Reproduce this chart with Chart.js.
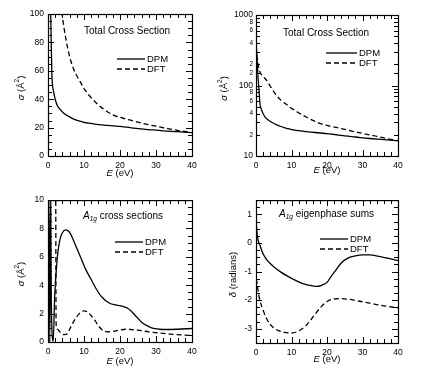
<!DOCTYPE html>
<html><head><meta charset="utf-8">
<script src="https://cdn.jsdelivr.net/npm/chart.js@4.4.1/dist/chart.umd.min.js"></script>
<style>
html,body{margin:0;padding:0;background:#fff;}
body{width:426px;height:382px;position:relative;overflow:hidden;}
canvas{position:absolute;}
</style></head>
<body>
<canvas id="p1" width="213" height="191" style="left:0;top:0"></canvas>
<canvas id="p2" width="213" height="191" style="left:213px;top:0"></canvas>
<canvas id="p3" width="213" height="191" style="left:0;top:191px"></canvas>
<canvas id="p4" width="213" height="191" style="left:213px;top:191px"></canvas>
<script>
// ---------- data ----------
const xTickLabels = [0, 10, 20, 30, 40];

// Total cross section (panels 1 & 2)
const eTotDPM = [0.05,0.2,0.4,0.6,0.75,0.9,1.1,1.5,2,2.5,3.3,4.3,5.4,7,8.9,10,12,13.5,15.6,18,20,22.8,25,28,32,36,40];
const totDPM  = [380,300,190,125,100,79,56,46,40,36,33,30.3,28.4,26.2,24.5,23.7,22.9,22.3,21.8,21.2,20.8,20,19.3,18.6,17.7,17.1,16.4];
const eTotDFT = [0.2,0.6,1,2,3,4,5,6,7,8,9,10,12,14,16,18,20,23,26,28,30,32,34,37,40];
const totDFT  = [270,200,160,135,118,98,82,70,62,56.5,52,47.5,41,36,32,29,27.2,25.2,23.2,22,21,19.9,19,17.6,16.5];

// A1g cross sections (panel 3)
const eA1gDPM = [0,0.25,0.5,0.75,0.9,1.45,1.85,2.6,3.3,4,4.9,5.5,6.3,7.5,9,10.5,12,13.5,15,17,19,21,22,23,24.5,26,27.5,29,31,33,36,40];
const a1gDPM  = [0,10.5,0,10.5,3.2,0.05,3.2,6.0,7.2,7.7,7.9,7.85,7.6,6.9,6.0,5.1,4.4,3.7,3.15,2.75,2.6,2.5,2.4,2.2,1.8,1.4,1.15,0.98,0.9,0.88,0.9,0.95];
const eA1gDFT = [2.15,2.25,2.6,3.5,4.5,5.2,6.4,7.5,8.7,10,11,12,12.9,14,15.2,16.5,18,20,21.6,23,26,28,31,34,37,40];
const a1gDFT  = [10.5,1.3,0.9,0.65,0.52,0.55,1.1,1.6,2.0,2.2,2.1,1.85,1.57,1.15,0.82,0.72,0.74,0.85,0.9,0.88,0.8,0.72,0.63,0.56,0.5,0.45];

// A1g eigenphase sums (panel 4)
const eEigDPM = [0,0.2,0.5,1.1,2,3,4,5,7,9,11,13,15,17,18.5,20,21,22.5,24,26,28,30,32,35,38,40];
const eigDPM  = [1.0,0.5,0.15,-0.08,-0.38,-0.58,-0.72,-0.83,-1.02,-1.17,-1.3,-1.41,-1.48,-1.52,-1.48,-1.38,-1.2,-0.95,-0.7,-0.52,-0.45,-0.42,-0.42,-0.48,-0.56,-0.62];
const eEigDFT = [0.1,0.5,1,2,3,4,5,6,8,10,12,14,16,18,20,22,24,26,28,30,33,36,40];
const eigDFT  = [-1.25,-1.6,-1.95,-2.35,-2.65,-2.85,-2.97,-3.05,-3.13,-3.15,-3.08,-2.9,-2.6,-2.28,-2.05,-1.96,-1.95,-1.97,-2.01,-2.06,-2.13,-2.2,-2.27];

const seriesNames = ['DPM', 'DFT'];

// ---------- helpers ----------
const FONT = "'Liberation Sans', Arial, Helvetica, sans-serif";
const pts = (xs, ys) => xs.map((x, i) => ({x, y: ys[i]}));
const near = (a, b) => Math.abs(a - b) < 1e-6;

function drawRich(ctx, parts, x, y, opts) {
  opts = opts || {};
  const base = opts.size || 10;
  const fontOf = p => (p.it ? 'italic ' : '') + (p.size || base) + 'px ' + FONT;
  let total = 0;
  parts.forEach(p => { ctx.font = fontOf(p); p.w = ctx.measureText(p.t).width; total += p.w; });
  ctx.save();
  ctx.translate(x, y);
  if (opts.rotate) ctx.rotate(-Math.PI / 2);
  let cx = opts.align === 'left' ? 0 : -total / 2;
  ctx.textBaseline = 'middle';
  ctx.textAlign = 'left';
  ctx.fillStyle = '#000';
  parts.forEach(p => { ctx.font = fontOf(p); ctx.fillText(p.t, cx, p.dy || 0); cx += p.w; });
  ctx.restore();
}

const decor = {
  id: 'decor',
  afterDatasetsDraw(chart, args, o) {
    const ctx = chart.ctx, a = chart.chartArea;
    const xs = chart.scales.x, ys = chart.scales.y;
    ctx.save();
    ctx.strokeStyle = '#000';
    ctx.lineWidth = 1.2;
    ctx.strokeRect(a.left + 0.5, a.top + 0.5, a.right - a.left, a.bottom - a.top);
    ctx.lineWidth = 1;
    ctx.beginPath();
    xs.ticks.forEach(t => {
      const p = Math.round(xs.getPixelForValue(t.value)) + 0.5;
      const len = o.xMajor(t.value) ? 6 : 4;
      ctx.moveTo(p, a.bottom); ctx.lineTo(p, a.bottom - len);
      ctx.moveTo(p, a.top); ctx.lineTo(p, a.top + len);
    });
    ys.ticks.forEach(t => {
      const p = Math.round(ys.getPixelForValue(t.value)) + 0.5;
      const len = o.yMajor(t.value) ? 6 : 4;
      ctx.moveTo(a.left, p); ctx.lineTo(a.left + len, p);
      ctx.moveTo(a.right, p); ctx.lineTo(a.right - len, p);
    });
    ctx.stroke();

    // panel title
    drawRich(ctx, o.title, o.titleX, o.titleY, {align: 'left', size: 10});
    // legend
    ctx.lineWidth = 1.3;
    seriesNames.forEach((name, i) => {
      const y = o.legY + i * 10;
      ctx.setLineDash(i ? [5, 3] : []);
      ctx.beginPath(); ctx.moveTo(o.legX1, y); ctx.lineTo(o.legX2, y); ctx.stroke();
      ctx.setLineDash([]);
      ctx.font = '9.5px ' + FONT; ctx.fillStyle = '#000';
      ctx.textBaseline = 'middle'; ctx.textAlign = 'left';
      ctx.fillText(name, o.legX2 + 2, y + 0.5);
    });
    // axis titles
    drawRich(ctx, [{t: 'E', it: true}, {t: ' (eV)'}], (a.left + a.right) / 2, o.xTitleY, {size: 9.5});
    drawRich(ctx, o.yTitle, o.yTitleX, (a.top + a.bottom) / 2 + 3, {rotate: true, size: 9.5});
    ctx.restore();
  }
};

function makePanel(id, p) {
  const tickFont = {family: FONT, size: 8.5};
  const yScale = Object.assign({
    type: 'linear',
    grid: {display: false, drawTicks: false},
    border: {display: false},
    ticks: {
      autoSkip: false, padding: 4, color: '#000', font: tickFont,
      stepSize: p.yStep, callback: p.yLabel
    },
    afterFit: s => { s.width = p.L; }
  }, p.yExtra || {});
  yScale.min = p.yMin; yScale.max = p.yMax;
  return new Chart(document.getElementById(id), {
    type: 'line',
    data: {
      datasets: [
        {label: seriesNames[0], data: p.dpm, borderColor: '#000', borderWidth: 1.3, pointRadius: 0,
         cubicInterpolationMode: 'monotone', fill: false, clip: 0},
        {label: seriesNames[1], data: p.dft, borderColor: '#000', borderWidth: 1.3, pointRadius: 0,
         borderDash: [5, 3], cubicInterpolationMode: 'monotone', fill: false, clip: 0}
      ]
    },
    options: {
      responsive: false, animation: false, devicePixelRatio: 1, events: [],
      layout: {padding: {left: 0, top: p.T, right: p.R, bottom: 0}},
      scales: {
        x: {
          type: 'linear', min: 0, max: 40,
          grid: {display: false, drawTicks: false},
          border: {display: false},
          ticks: {
            autoSkip: false, maxRotation: 0, padding: 5, color: '#000', font: tickFont, stepSize: 2,
            callback: v => xTickLabels.some(l => near(l, v)) ? String(Math.round(v)) : ''
          },
          afterFit: s => { s.height = p.B; }
        },
        y: yScale
      },
      plugins: {
        legend: {display: false}, tooltip: {enabled: false},
        decor: {
          xMajor: v => near(v % 10, 0),
          yMajor: p.yMajor,
          title: p.title, titleX: p.titleX, titleY: p.titleY,
          legX1: p.legX1, legX2: p.legX2, legY: p.legY,
          xTitleY: p.xTitleY, yTitle: p.yTitle, yTitleX: p.yTitleX
        }
      }
    },
    plugins: [decor]
  });
}

const sigmaTitle = [{t: 'σ', it: true}, {t: ' (Å'}, {t: '2', size: 6.5, dy: -3.5}, {t: ')'}];
const totTitle = [{t: 'Total Cross Section'}];
const isMult = (v, m) => near(v / m, Math.round(v / m));
function isDecade(v) { const l = Math.log10(v); return near(l, Math.round(l)); }

// Panel 1: total cross section, linear
makePanel('p1', {
  L: 48, T: 14, R: 21, B: 35,
  dpm: pts(eTotDPM, totDPM), dft: pts(eTotDFT, totDFT),
  yMin: 0, yMax: 100, yStep: 5,
  yLabel: v => isMult(v, 20) ? String(Math.round(v)) : '',
  yMajor: v => isMult(v, 20),
  title: totTitle, titleX: 84, titleY: 31,
  legX1: 117, legX2: 145, legY: 59,
  xTitleY: 173, yTitle: sigmaTitle, yTitleX: 21
});

// Panel 2: total cross section, log
makePanel('p2', {
  L: 43, T: 15, R: 28, B: 35,
  dpm: pts(eTotDPM, totDPM), dft: pts(eTotDFT, totDFT),
  yMin: 10, yMax: 1000,
  yExtra: {
    type: 'logarithmic',
    ticks: {
      autoSkip: false, padding: 3, color: '#000',
      font: c => ({family: FONT, size: (c.tick && isDecade(c.tick.value)) ? 8.5 : 6.5}),
      callback: v => {
        if (isDecade(v)) return String(Math.round(v));
        const e = Math.floor(Math.log10(v) + 1e-9);
        const m = Math.round(v / Math.pow(10, e));
        return (m % 2 === 0) ? String(m) : '';
      }
    }
  },
  yMajor: v => isDecade(v),
  title: totTitle, titleX: 70, titleY: 33,
  legX1: 113, legX2: 144, legY: 53,
  xTitleY: 170, yTitle: sigmaTitle, yTitleX: 11
});

// Panel 3: A1g cross sections
makePanel('p3', {
  L: 48, T: 8, R: 21, B: 40,
  dpm: pts(eA1gDPM, a1gDPM), dft: pts(eA1gDFT, a1gDFT),
  yMin: 0, yMax: 10, yStep: 0.5,
  yLabel: v => isMult(v, 2) ? String(Math.round(v)) : '',
  yMajor: v => isMult(v, 2),
  title: [{t: 'A', it: true}, {t: '1g', it: true, size: 6.5, dy: 3}, {t: ' cross sections'}],
  titleX: 83, titleY: 25,
  legX1: 115, legX2: 143, legY: 51,
  xTitleY: 170, yTitle: sigmaTitle, yTitleX: 21
});

// Panel 4: A1g eigenphase sums
makePanel('p4', {
  L: 43, T: 7, R: 28, B: 39,
  dpm: pts(eEigDPM, eigDPM), dft: pts(eEigDFT, eigDFT),
  yMin: -3.5, yMax: 1.5, yStep: 0.25,
  yLabel: v => isMult(v, 1) ? String(Math.round(v)) : '',
  yMajor: v => isMult(v, 1),
  title: [{t: 'A', it: true}, {t: '1g', it: true, size: 6.5, dy: 3}, {t: ' eigenphase sums'}],
  titleX: 66, titleY: 23,
  legX1: 107, legX2: 135, legY: 48,
  xTitleY: 168, yTitle: [{t: 'δ', it: true}, {t: ' (radians)'}], yTitleX: 20
});
</script>
</body></html>
